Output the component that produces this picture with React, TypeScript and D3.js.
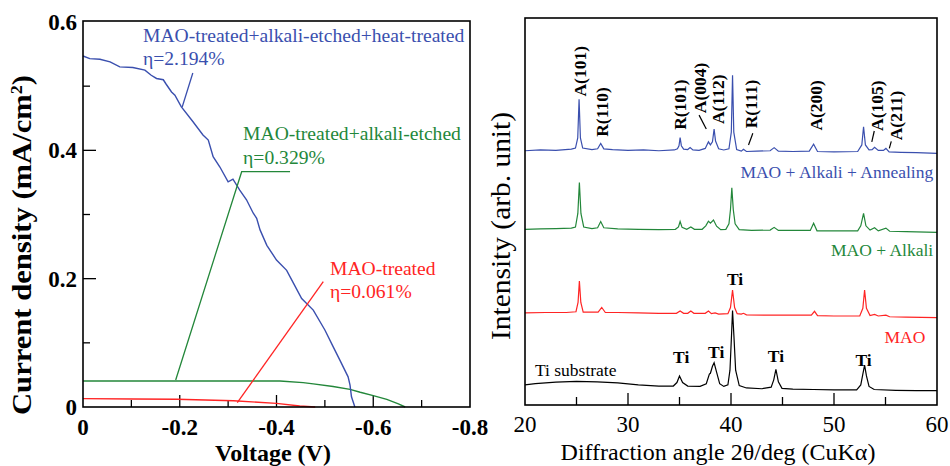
import React from 'react';
import * as d3 from 'd3';

// ---- J-V curves (voltage V, current density mA/cm2) ----
const jvHeat: [number, number][] = [
  [0, 0.547], [-0.014, 0.543], [-0.035, 0.542], [-0.056, 0.538], [-0.076, 0.53],
  [-0.103, 0.529], [-0.128, 0.525], [-0.141, 0.517], [-0.152, 0.512], [-0.166, 0.51],
  [-0.172, 0.503], [-0.183, 0.491], [-0.19, 0.486], [-0.203, 0.468], [-0.227, 0.445],
  [-0.248, 0.424], [-0.259, 0.416], [-0.269, 0.39], [-0.283, 0.374], [-0.3, 0.351],
  [-0.31, 0.355], [-0.324, 0.338], [-0.338, 0.323], [-0.352, 0.302], [-0.359, 0.294],
  [-0.366, 0.276], [-0.38, 0.252], [-0.4, 0.229], [-0.421, 0.213], [-0.435, 0.193],
  [-0.452, 0.169], [-0.476, 0.151], [-0.5, 0.12], [-0.517, 0.094], [-0.531, 0.073],
  [-0.548, 0.047], [-0.552, 0.034], [-0.555, 0.016], [-0.562, 0]
];
const jvAlkali: [number, number][] = [
  [0, 0.0405], [-0.2, 0.0405], [-0.407, 0.0405], [-0.455, 0.038], [-0.476, 0.036],
  [-0.517, 0.032], [-0.552, 0.0275], [-0.573, 0.023], [-0.6, 0.0177], [-0.628, 0.012],
  [-0.652, 0.005], [-0.666, 0]
];
const jvMao: [number, number][] = [
  [0, 0.013], [-0.104, 0.0125], [-0.194, 0.012], [-0.311, 0.0098], [-0.4, 0.0057],
  [-0.448, 0.0016], [-0.48, 0]
];
const voltTicks = [0, -0.2, -0.4, -0.6, -0.8];
const currTicks = [0, 0.2, 0.4, 0.6];

// ---- XRD patterns (2theta deg, intensity a.u., stacked as plotted) ----
const xrdAnneal: [number, number][] = [
  [20, 65.7], [21.5, 65.9], [23, 65.8], [24.5, 66.1], [24.9, 66.4], [25.12, 69], [25.25, 79],
  [25.38, 69], [25.6, 66.4], [26.5, 66], [27.05, 66.2], [27.35, 67.6], [27.65, 66.2], [28.5, 66],
  [30, 65.8], [31.5, 65.9], [33, 65.7], [34.5, 65.9], [34.8, 66.2], [34.95, 67], [35.06, 69.1],
  [35.18, 67], [35.4, 66.1], [35.8, 66], [36.03, 66.5], [36.3, 65.9], [36.9, 65.8], [37.5, 66.3],
  [37.81, 68], [38, 67.2], [38.2, 68], [38.36, 71.3], [38.5, 68.2], [38.8, 66.2], [39.3, 65.9],
  [39.8, 66.2], [40.03, 70.5], [40.15, 85.2], [40.27, 70.5], [40.55, 66], [41, 65.6], [41.21, 66.1],
  [41.5, 65.5], [42.5, 65.6], [43.8, 65.7], [44.19, 66.5], [44.6, 65.6], [46, 65.5], [47.6, 65.6],
  [48.02, 67.4], [48.4, 65.5], [50, 65.4], [52.3, 65.5], [52.7, 67.2], [52.87, 71.9], [53.05, 67.2],
  [53.4, 65.9], [53.7, 66], [53.94, 66.6], [54.3, 65.8], [54.8, 65.8], [55.04, 66.3], [55.35, 65.4],
  [56.5, 65.3], [58, 65.2], [60, 65]
];
const xrdAlkali: [number, number][] = [
  [20, 45.4], [21.5, 45.5], [23, 45.6], [24.5, 45.7], [24.9, 46], [25.13, 49.5], [25.28, 57.5],
  [25.43, 49.5], [25.7, 46], [26.5, 45.6], [27.05, 45.8], [27.35, 47.4], [27.65, 45.8], [29, 45.5],
  [31, 45.4], [33, 45.3], [34.6, 45.4], [34.9, 46], [35.06, 47.4], [35.25, 45.9], [35.7, 45.4],
  [36.1, 46], [36.45, 45.4], [37.2, 45.4], [37.55, 46.3], [37.81, 47.5], [38, 47], [38.3, 47.8],
  [38.6, 46.2], [39, 45.3], [39.5, 45.4], [39.8, 46.8], [39.95, 50.5], [40.08, 56.1], [40.22, 50.5],
  [40.4, 46.8], [40.8, 45.3], [42, 45.1], [43.8, 45.2], [44.19, 45.9], [44.6, 45.1], [46, 45.1],
  [47.7, 45.1], [48.02, 46.95], [48.35, 45], [50, 45], [52.3, 45], [52.6, 46.3], [52.87, 49.5],
  [53.1, 46.3], [53.5, 45.2], [53.94, 45.8], [54.3, 45], [55.04, 45.7], [55.4, 44.9], [57, 44.8],
  [60, 44.6]
];
const xrdMao: [number, number][] = [
  [20, 23.8], [22, 23.9], [24, 23.9], [24.95, 24.1], [25.15, 26.5], [25.28, 32], [25.42, 26.5],
  [25.65, 24], [27.1, 24], [27.45, 25.2], [27.8, 23.9], [29, 23.9], [31, 23.8], [33, 23.7],
  [34.7, 23.7], [35.06, 24.3], [35.4, 23.7], [35.8, 23.7], [36.1, 24.3], [36.4, 23.7], [37.5, 23.7],
  [37.81, 24.3], [38.1, 23.6], [38.46, 23.8], [38.8, 23.5], [39.7, 23.6], [39.95, 25.2], [40.15, 29.7],
  [40.35, 25.2], [40.6, 23.6], [41, 23.5], [41.21, 23.7], [41.5, 23.3], [44, 23.2], [46, 23.2],
  [47.8, 23.2], [48.11, 24.2], [48.4, 23.1], [50, 23], [52.5, 23], [52.8, 25], [52.97, 29.7],
  [53.15, 25], [53.5, 23.1], [53.94, 23.4], [54.3, 23], [55.04, 23.2], [55.4, 22.8], [57, 22.7],
  [60, 22.6]
];
const xrdTi: [number, number][] = [
  [20, 5.2], [21, 5.5], [22, 5.7], [23, 5.9], [25, 6.1], [27, 6], [29, 5.7], [31, 5.2], [33, 4.9],
  [34.4, 4.9], [34.75, 5.8], [35, 7.5], [35.3, 5.8], [35.8, 4.9], [37, 4.8], [37.6, 5.5], [37.9, 8],
  [38, 8.2], [38.2, 10], [38.36, 10.9], [38.6, 8.5], [38.9, 5.5], [39.3, 4.8], [39.7, 5.2], [39.9, 9],
  [40.05, 18], [40.15, 24.4], [40.28, 18], [40.45, 9], [40.8, 5], [41.5, 4.4], [43, 4.2], [43.9, 4.6],
  [44.15, 6.5], [44.36, 9.2], [44.6, 6], [44.95, 4.3], [46, 4.1], [48, 4], [50, 3.9], [52.2, 3.9],
  [52.6, 5.2], [52.8, 8], [52.97, 10.3], [53.15, 7.5], [53.4, 4.8], [53.9, 4], [56, 3.8], [58, 3.7],
  [60, 3.7]
];
const angleTicks = [20, 30, 40, 50, 60];

// peak labels: [text, 2theta, intensity at foot of label]
const phaseLabels: [string, number, number][] = [
  ['A(101)', 25.34, 79.7], ['R(110)', 27.51, 69.3], ['R(101)', 35.06, 71.1],
  ['A(004)', 36.93, 75.4], ['A(112)', 38.7, 72.6], ['R(111)', 41.93, 71.5],
  ['A(200)', 48.25, 70.9], ['A(105)', 54.17, 70.8], ['A(211)', 56.0, 68.4]
];
const phaseLeaders: [number, number, number, number][] = [
  [36.9, 74.9, 37.6, 71.3], [42.12, 70.2, 41.7, 67.2], [53.91, 70.8, 53.67, 68.0], [55.56, 68.1, 55.37, 66.3]
];
const tiLabels: [number, number][] = [
  [40.4, 31.0], [35.16, 10.93], [38.56, 12.07], [44.36, 11.19], [52.87, 10.08]
];

const BLUE = '#3a4fae';
const GREEN = '#23873a';
const RED = '#ff2424';
const SERIF = '"Liberation Serif", "Times New Roman", serif';

// left panel
const L = { left: 83, right: 470, top: 21, bottom: 407 };
// right panel
const R = { left: 525, right: 937, top: 18, bottom: 405 };

export default function App() {
  const xV = d3.scaleLinear().domain([0, -0.8]).range([L.left, L.right]);
  const yJ = d3.scaleLinear().domain([0, 0.6]).range([L.bottom, L.top + 1]);
  const jvLine = d3.line<[number, number]>().x(d => xV(d[0])).y(d => yJ(d[1]));

  const x2t = d3.scaleLinear().domain([20, 60]).range([R.left, R.right]);
  const yI = d3.scaleLinear().domain([0, 100]).range([R.bottom, R.top]);
  const xrdLine = d3.line<[number, number]>().x(d => x2t(d[0])).y(d => yI(d[1]));

  const vMinor = d3.range(1, 8).map(i => -i / 10);
  const jMinor = d3.range(1, 6).map(i => i / 10);
  const tMinor = d3.range(25, 60, 5);

  return (
    <svg width={950} height={466} style={{ position: 'absolute', left: 0, top: 0, background: '#fff' }} fontFamily={SERIF}>
      <rect width={950} height={466} fill="#fff" />

      {/* ===== J-V panel ===== */}
      <g>
        {jMinor.map((t, i) => (
          <line key={i} x1={L.left} x2={L.left + (i % 2 ? 13 : 7)} y1={yJ(t)} y2={yJ(t)} stroke="#000" strokeWidth={1.3} />
        ))}
        {vMinor.map((t, i) => (
          <line key={i} x1={xV(t)} x2={xV(t)} y1={L.bottom} y2={L.bottom - (i % 2 ? 12 : 7)} stroke="#000" strokeWidth={1.3} />
        ))}
        {currTicks.map(t => (
          <text key={t} x={77} y={yJ(t)} dy="0.35em" textAnchor="end" fontSize={23} fontWeight="bold">{t === 0 ? '0' : t.toFixed(1)}</text>
        ))}
        {voltTicks.map(t => (
          <text key={t} x={xV(t)} y={435} textAnchor="middle" fontSize={23} fontWeight="bold">{t === 0 ? '0' : t.toFixed(1)}</text>
        ))}
        <text x={273} y={461} textAnchor="middle" fontSize={24} fontWeight="bold">Voltage (V)</text>
        <text transform="translate(31,245) rotate(-90)" textAnchor="middle" fontSize={27} fontWeight="bold"
          textLength={340} lengthAdjust="spacingAndGlyphs">
          Current density (mA/cm<tspan dy={-9} fontSize={16}>2</tspan><tspan dy={9}>)</tspan>
        </text>

        <path d={jvLine(jvAlkali) || ''} fill="none" stroke={GREEN} strokeWidth={1.4} />
        <path d={jvLine(jvMao) || ''} fill="none" stroke={RED} strokeWidth={1.4} />
        <path d={jvLine(jvHeat) || ''} fill="none" stroke={BLUE} strokeWidth={1.4} />

        {/* annotations */}
        <line x1={xV(-0.227)} y1={yJ(0.5205)} x2={xV(-0.205)} y2={yJ(0.4675)} stroke={BLUE} strokeWidth={1.3} />
        <text x={xV(-0.124)} y={yJ(0.569)} fontSize={19.6} fill={BLUE}>MAO-treated+alkali-etched+heat-treated</text>
        <text x={xV(-0.124)} y={yJ(0.533)} fontSize={19.6} fill={BLUE}>η=2.194%</text>

        <polyline points={`${xV(-0.428)},${yJ(0.3667)} ${xV(-0.328)},${yJ(0.3667)} ${xV(-0.1916)},${yJ(0.0421)}`} fill="none" stroke={GREEN} strokeWidth={1.3} />
        <text x={xV(-0.331)} y={yJ(0.416)} fontSize={19.6} fill={GREEN}>MAO-treated+alkali-etched</text>
        <text x={xV(-0.331)} y={yJ(0.3787)} fontSize={19.6} fill={GREEN}>η=0.329%</text>

        <line x1={xV(-0.4967)} y1={yJ(0.1953)} x2={xV(-0.319)} y2={yJ(0.0067)} stroke={RED} strokeWidth={1.3} />
        <text x={xV(-0.5106)} y={yJ(0.2057)} fontSize={19.6} fill={RED}>MAO-treated</text>
        <text x={xV(-0.5106)} y={yJ(0.1699)} fontSize={19.6} fill={RED}>η=0.061%</text>

        <rect x={L.left} y={L.top} width={L.right - L.left} height={L.bottom - L.top} fill="none" stroke="#000" strokeWidth={1.6} />
      </g>

      {/* ===== XRD panel ===== */}
      <g>
        {tMinor.map(t => (
          <line key={t} x1={x2t(t)} x2={x2t(t)} y1={R.bottom} y2={R.bottom - (t % 10 === 0 ? 12 : 8)} stroke="#000" strokeWidth={1.3} />
        ))}
        {angleTicks.map(t => (
          <text key={t} x={x2t(t)} y={432} textAnchor="middle" fontSize={23}>{t}</text>
        ))}
        <text x={718} y={460} textAnchor="middle" fontSize={24}>Diffraction angle 2θ/deg (CuKα)</text>
        <text transform="translate(510,226) rotate(-90)" textAnchor="middle" fontSize={28}
          textLength={228} lengthAdjust="spacingAndGlyphs">Intensity (arb. unit)</text>

        <path d={xrdLine(xrdTi) || ''} fill="none" stroke="#000" strokeWidth={1.2} />
        <path d={xrdLine(xrdMao) || ''} fill="none" stroke={RED} strokeWidth={1.2} />
        <path d={xrdLine(xrdAlkali) || ''} fill="none" stroke={GREEN} strokeWidth={1.2} />
        <path d={xrdLine(xrdAnneal) || ''} fill="none" stroke={BLUE} strokeWidth={1.2} />

        {phaseLabels.map(([s, t, v]) => (
          <text key={s} transform={`translate(${x2t(t)},${yI(v)}) rotate(-90)`} dy="0.35em" fontSize={17.5} fontWeight="bold">{s}</text>
        ))}
        {phaseLeaders.map((d, i) => (
          <line key={i} x1={x2t(d[0])} y1={yI(d[1])} x2={x2t(d[2])} y2={yI(d[3])} stroke="#000" strokeWidth={1.2} />
        ))}
        {tiLabels.map(([t, v], i) => (
          <text key={i} x={x2t(t)} y={yI(v)} textAnchor="middle" fontSize={17.5} fontWeight="bold">Ti</text>
        ))}

        <text x={x2t(59.63)} y={yI(58.6)} textAnchor="end" fontSize={17.5} fill={BLUE}>MAO + Alkali + Annealing</text>
        <text x={x2t(59.63)} y={yI(38.5)} textAnchor="end" fontSize={17.5} fill={GREEN}>MAO + Alkali</text>
        <text x={x2t(58.87)} y={yI(16.0)} textAnchor="end" fontSize={17.5} fill={RED}>MAO</text>
        <text x={x2t(20.97)} y={yI(7.57)} fontSize={17.5}>Ti substrate</text>

        <rect x={R.left} y={R.top} width={R.right - R.left} height={R.bottom - R.top} fill="none" stroke="#000" strokeWidth={1.6} />
      </g>
    </svg>
  );
}
